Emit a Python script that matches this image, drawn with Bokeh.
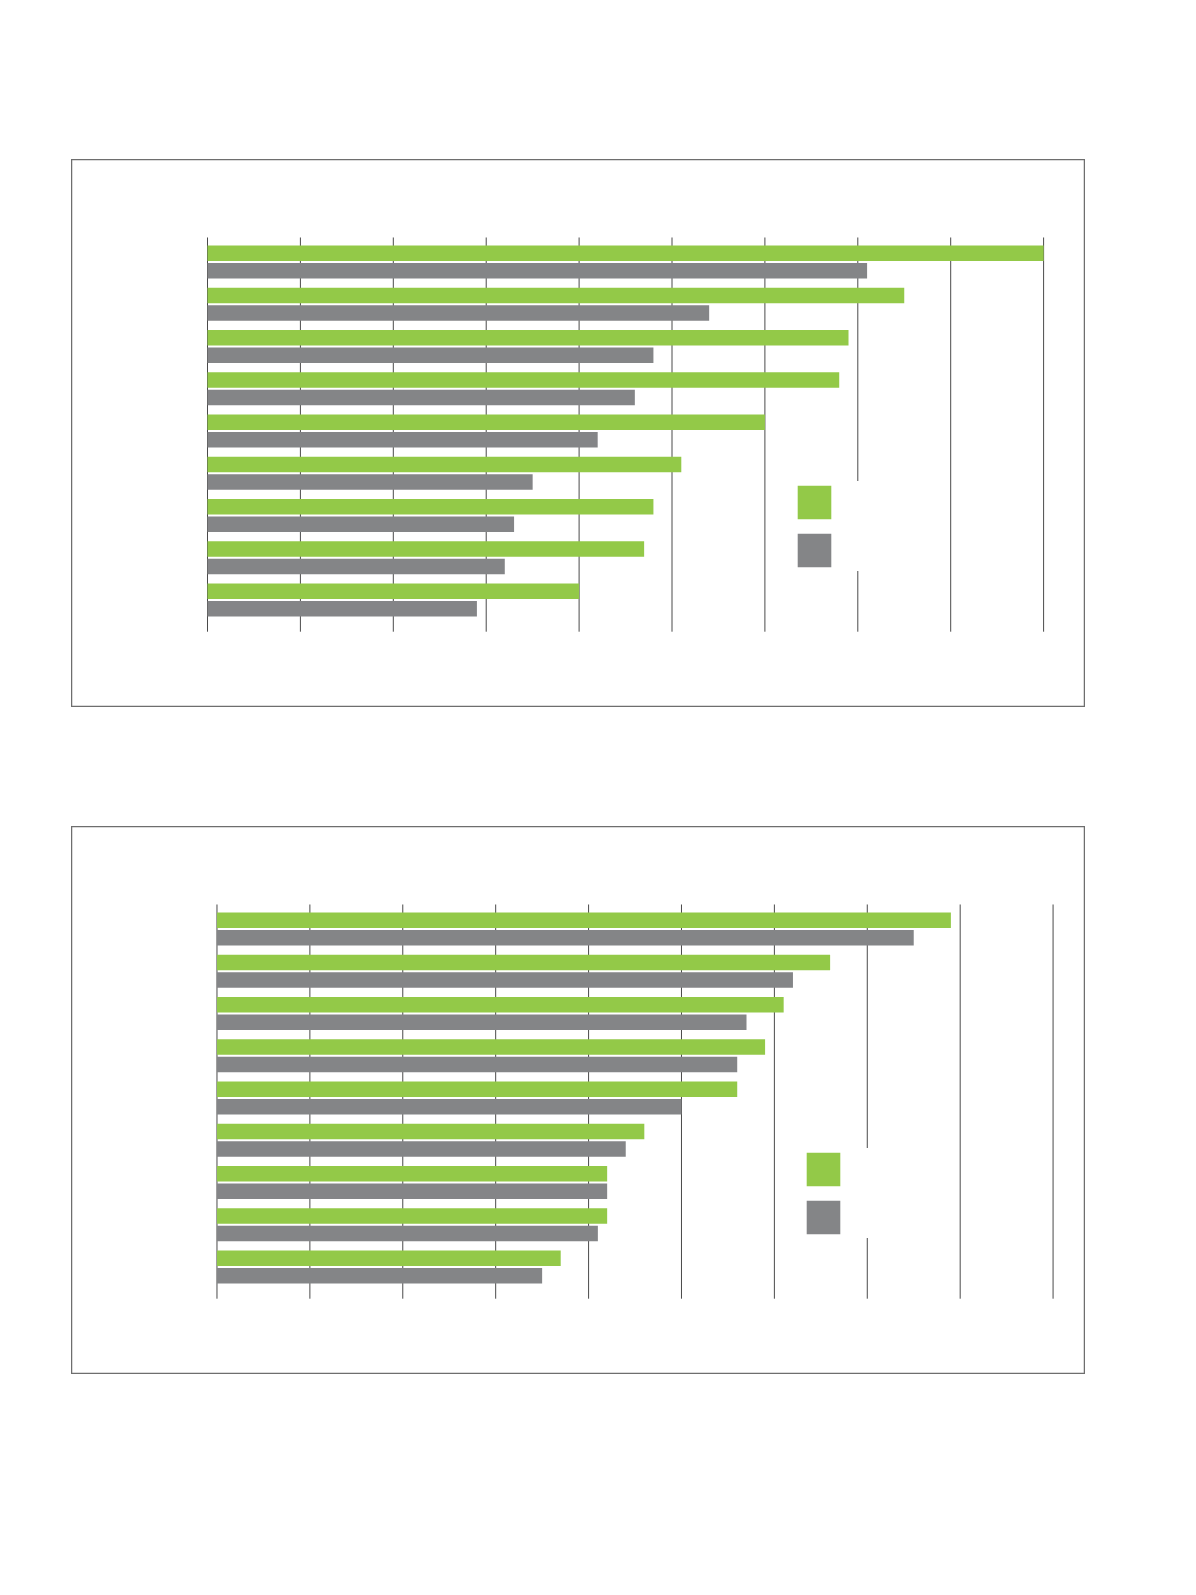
from bokeh.plotting import figure
from bokeh.layouts import column
from bokeh.models import Range1d, Legend, LegendItem
from bokeh.embed import file_html
from bokeh.resources import INLINE

# ---- data (grid unit = 10) ----
categories = ["A", "B", "C", "D", "E", "F", "G", "H", "I"]
ticks = [0, 10, 20, 30, 40, 50, 60, 70, 80, 90]

chart1_green = [90, 75, 69, 68, 60, 51, 48, 47, 40]
chart1_gray = [71, 54, 48, 46, 42, 35, 33, 32, 29]

chart2_green = [79, 66, 61, 59, 56, 46, 42, 42, 37]
chart2_gray = [75, 62, 57, 56, 50, 44, 42, 41, 35]

GREEN = "#93c948"
GRAY = "#848587"
GRID = "#4a4a4a"


def make_chart(green, gray, x_start, x_end, legend_loc, margin):
    n = len(categories)
    p = figure(width=1014, height=548, output_backend="svg", toolbar_location=None,
               x_axis_location=None, y_axis_location=None,
               x_range=Range1d(x_start, x_end),
               y_range=Range1d(10.544, -2.426),
               min_border=0, min_border_left=0, min_border_right=0,
               min_border_top=0, min_border_bottom=0,
               outline_line_color="#6e6e6e", outline_line_width=1.5,
               background_fill_color="white", border_fill_color="white")
    p.margin = margin
    p.xgrid.visible = False
    p.ygrid.visible = False

    # vertical grid lines
    p.segment(x0=ticks, x1=ticks, y0=[-0.58] * len(ticks), y1=[n - 1 + 0.75] * len(ticks),
              line_color=GRID, line_width=1)

    pos = list(range(n))
    off = 0.207
    hb = 0.367
    g = p.hbar(y=[v - off for v in pos], left=0, right=green, height=hb,
               fill_color=GREEN, line_color=None)
    k = p.hbar(y=[v + off for v in pos], left=0, right=gray, height=hb,
               fill_color=GRAY, line_color=None)

    legend = Legend(items=[LegendItem(label=" ", renderers=[g]),
                           LegendItem(label=" ", renderers=[k])],
                    location=legend_loc, glyph_width=42, glyph_height=42,
                    spacing=6, padding=10, margin=0,
                    border_line_color=None, background_fill_color="white",
                    background_fill_alpha=1.0, label_text_font_size="10px",
                    label_width=20, label_standoff=5)
    p.add_layout(legend, "center")
    return p


p1 = make_chart(chart1_green, chart1_gray, -14.64, 94.51, (722, 136), (159, 0, 0, 71))
p2 = make_chart(chart2_green, chart2_gray, -15.66, 93.49, (731, 136), (119, 0, 0, 71))

layout = column(p1, p2, spacing=0)
open("out.html", "w").write(file_html(layout, INLINE))
